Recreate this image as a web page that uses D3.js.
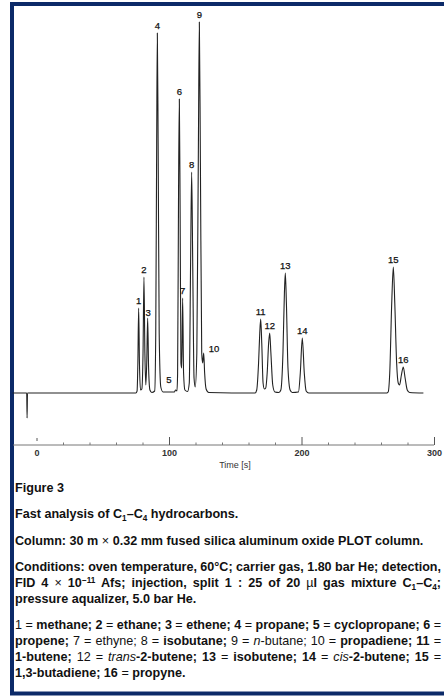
<!DOCTYPE html>
<html><head><meta charset="utf-8">
<script src="https://cdn.jsdelivr.net/npm/d3@7"></script>
<style>
html,body{margin:0;padding:0;background:#fff;}
svg{display:block;}
</style></head>
<body>
<svg id="c" width="444" height="697"></svg>
<script>
// ---- data ----
const peakIds = [1,2,3,4,5,6,7,8,9,10,11,12,13,14,15,16];
const peakTimes = [77.1,81.1,83.9,91.2,105,107.8,110.3,117.1,122.9,126.2,169.2,176.0,187.8,200.6,269.3,276.8];
const peakHeights = [85,116,75,360,3,294,95,221,371,40,74,60,120,55,126,26];
// chromatogram trace: [time (s), signal]
const trace = [
  [-18,0],[-7.4,0],[-7.1,-25],[-6.8,0],[75,0],[75.9,2],
  [76.5,30],[77.1,85],[77.7,30],[78.5,3],
  [79.5,4],[80.4,40],[81.1,116],[81.8,40],[82.5,8],
  [83.2,30],[83.9,75],[84.6,25],[85.6,3],[87,0.5],
  [89.2,2],[90.0,60],[90.7,250],[91.2,360],[91.8,250],[92.6,60],[93.8,6],[95.5,1],[104,1],
  [105,3],[106,2],
  [106.5,20],[107.2,200],[107.8,294],[108.4,180],[109,30],
  [109.6,25],[110.3,95],[111,20],[112,3],[114,1.5],
  [115.3,10],[116.3,130],[117.1,221],[117.9,130],[118.9,15],[119.8,6],
  [121.0,40],[122.2,250],[122.9,371],[123.7,230],[124.7,40],
  [125.4,30],[126.2,40],[126.9,20],[128,4],[130,0.5],[165,0],
  [166.2,3],[167.6,30],[168.5,60],[169.2,74],[170,50],[171,10],[172,4],
  [173,5],[174.1,20],[175.2,50],[176,60],[176.9,40],[178.3,8],[179.9,1],[183,0.5],
  [184.4,3],[186.0,40],[187.1,100],[187.8,120],[188.6,90],[189.8,25],[191.4,3],[193,0.5],
  [197.7,1],[199.1,20],[200.6,55],[202.1,20],[203.5,2],[205.5,0],[264.3,0],
  [265.4,1],[266.6,20],[268.1,90],[269.3,126],[270.4,90],[271.8,30],[273,10],[274,8],
  [275.4,18],[276.8,26],[278.2,15],[279.8,3],[281.6,0.5],[292,0]
];
const majorTicks = [0,100,200,300];
const minorTicks = [20,40,60,80,120,140,160,180,220,240,260,280];
const xLabel = "Time [s]";

// caption lines: arrays of segments [text, style]; style: b=bold, n=normal, i=italic, sub, sup
const captionLines = [
  {y:492, just:false, segs:[["Figure 3","b"]]},
  {y:518, just:false, segs:[["Fast analysis of C","b"],["1","bsub"],["–C","b"],["4","bsub"],[" hydrocarbons.","b"]]},
  {y:544.5, just:false, segs:[["Column: 30 m ","b"],["×","n"],[" 0.32 mm fused silica aluminum oxide PLOT column.","b"]]},
  {y:571, just:true, segs:[["Conditions: oven temperature, 60°C; carrier gas, 1.80 bar He; detection,","b"]]},
  {y:587, just:true, segs:[["FID 4 ","b"],["×","n"],[" 10","b"],["−11","bsup"],[" Afs; injection, split 1 : 25 of 20 ","b"],["µ","n"],["l gas mixture C","b"],["1","bsub"],["–C","b"],["4","bsub"],[";","b"]]},
  {y:603, just:false, segs:[["pressure aqualizer, 5.0 bar He.","b"]]},
  {y:629, just:true, segs:[["1 ","n"],["= ","n"],["methane; 2 ","b"],["= ","n"],["ethane; 3 ","b"],["= ","n"],["ethene; 4 ","b"],["= ","n"],["propane; 5 ","b"],["= ","n"],["cyclopropane; 6 ","b"],["=","n"]]},
  {y:645, just:true, segs:[["propene; ","b"],["7 = ethyne; 8 = ","n"],["isobutane; ","b"],["9 = ","n"],["n","i"],["-butane; 10 ","n"],["= ","n"],["propadiene; 11 ","b"],["=","n"]]},
  {y:661, just:true, segs:[["1-butene; ","b"],["12 = ","n"],["trans","i"],["-2-butene; 13 ","b"],["= ","n"],["isobutene; 14 ","b"],["= ","n"],["cis","i"],["-2-butene; 15 ","b"],["=","n"]]},
  {y:677, just:false, segs:[["1,3-butadiene; 16 ","b"],["= ","n"],["propyne.","b"]]}
];

// ---- drawing ----
const svg = d3.select("#c");
const FONT = "'Liberation Sans', Arial, Helvetica, sans-serif";

// frame
svg.append("rect").attr("x",12).attr("y",4).attr("width",460).attr("height",689.5)
  .attr("fill","#fff").attr("stroke","#0c2a68").attr("stroke-width",4);

const x = d3.scaleLinear().domain([0,300]).range([36.5,434]);
const y = d3.scaleLinear().domain([0,371]).range([393,22]);

// trace
const line = d3.line().x(d=>x(d[0])).y(d=>y(d[1])).curve(d3.curveMonotoneX);
svg.append("path").datum(trace).attr("d",line)
  .attr("fill","none").attr("stroke","#222").attr("stroke-width",1.1).attr("stroke-linejoin","round");

// peak labels
const labelShift = {5:[-4,-3], 10:[5,2.5], 3:[0.5,1.5]};
svg.append("g").selectAll("text").data(peakIds).join("text")
  .attr("x",(d,i)=>x(peakTimes[i]) + (labelShift[d]?labelShift[d][0]:0))
  .attr("y",(d,i)=>y(peakHeights[i]) - 4 + (labelShift[d]?labelShift[d][1]:0))
  .attr("text-anchor",d=>d===10?"start":(d===5?"end":"middle"))
  .attr("font-family",FONT).attr("font-size",9.5).attr("fill","#111")
  .attr("stroke","#111").attr("stroke-width",0.25)
  .text(d=>d);

// x axis
const axisY = 445;
const gAxis = svg.append("g").attr("transform",`translate(0,${axisY})`);
gAxis.append("line").attr("x1",13).attr("x2",x(300)).attr("y1",0).attr("y2",0)
  .attr("stroke","#777").attr("stroke-width",1);
const major = d3.axisBottom(x).tickValues(majorTicks).tickSizeInner(-8).tickSizeOuter(0).tickPadding(5).tickFormat(d3.format("d"));
const gMaj = gAxis.append("g").call(major);
gMaj.select(".domain").remove();
gMaj.selectAll(".tick line").attr("stroke","#555");
gMaj.selectAll(".tick").filter(d=>d===0).select("line").attr("y1",-4).attr("y2",-7);
gMaj.selectAll(".tick text").attr("font-family",FONT).attr("font-size",9).attr("font-weight","bold").attr("fill","#333");
const minor = d3.axisBottom(x).tickValues(minorTicks).tickSizeInner(-2.5).tickSizeOuter(0).tickFormat("");
const gMin = gAxis.append("g").call(minor);
gMin.select(".domain").remove();
gMin.selectAll(".tick line").attr("stroke","#777");

svg.append("text").attr("x",235).attr("y",468).attr("text-anchor","middle")
  .attr("font-family",FONT).attr("font-size",9).attr("fill","#333").text(xLabel);

// caption
const left = 15, right = 441;
captionLines.forEach(L=>{
  const t = svg.append("text").attr("x",left).attr("y",L.y)
    .attr("font-family",FONT).attr("font-size",12.6).attr("fill","#111")
    .attr("xml:space","preserve");
  L.segs.forEach(([s,st])=>{
    const ts = t.append("tspan").text(s);
    if (st.startsWith("b")) ts.attr("font-weight","bold");
    if (st==="i") ts.attr("font-style","italic");
    if (st.endsWith("sub")) ts.attr("font-size",8.2).attr("baseline-shift","-2.5");
    if (st.endsWith("sup")) ts.attr("font-size",8.2).attr("baseline-shift","4.5");
  });
  const len = t.node().getComputedTextLength();
  if (len > right-left) {
    t.attr("textLength", right-left).attr("lengthAdjust","spacingAndGlyphs");
  } else if (L.just) {
    const full = L.segs.map(s=>s[0]).join("");
    const spaces = (full.match(/ /g)||[]).length;
    if (spaces>0) t.attr("word-spacing",((right-left)-len)/spaces);
  }
});
</script>
</body></html>
